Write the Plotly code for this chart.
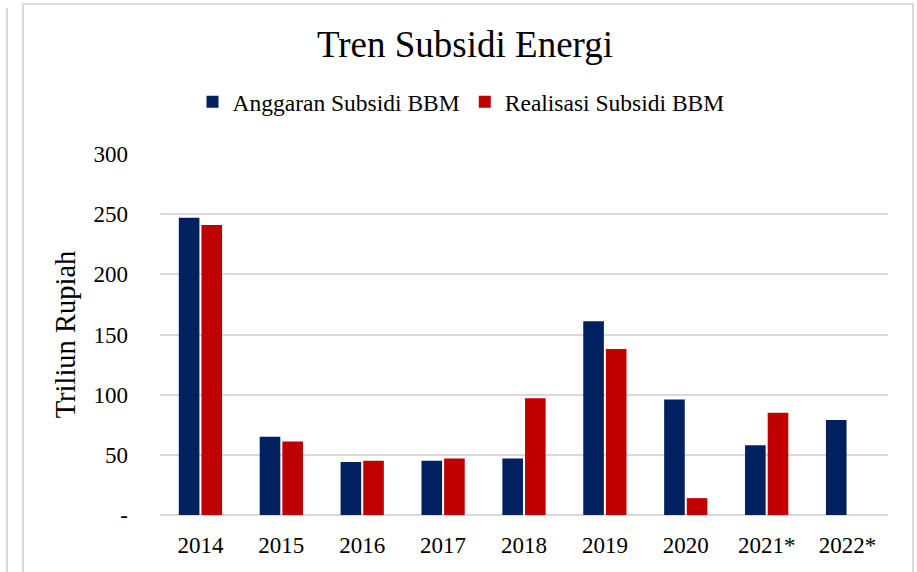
import plotly.graph_objects as go

years = ["2014", "2015", "2016", "2017", "2018", "2019", "2020", "2021*", "2022*"]
anggaran = [247, 65, 44, 45, 47, 161, 96, 58, 79]
realisasi = [241, 61, 45, 47, 97, 138, 14, 85, None]
y_ticks = [0, 50, 100, 150, 200, 250, 300]
y_ticktext = ["-", "50", "100", "150", "200", "250", "300"]

FONT = "Palatino Linotype, Book Antiqua, Liberation Serif, serif"

W, H = 917, 572
L, R, T, B = 160, 29, 154, 57
pw, ph = W - L - R, H - T - B

def px_x(x):
    return (x - L) / pw

def px_y(y):
    return (H - B - y) / ph

fig = go.Figure()
fig.add_trace(go.Bar(name="Anggaran Subsidi BBM", x=years, y=anggaran,
                     marker=dict(color="#002060", line=dict(width=0))))
fig.add_trace(go.Bar(name="Realisasi Subsidi BBM", x=years, y=realisasi,
                     marker=dict(color="#C00000", line=dict(width=0))))

fig.update_layout(
    width=W, height=H,
    margin=dict(l=L, r=R, t=T, b=B, autoexpand=False),
    paper_bgcolor="white", plot_bgcolor="white",
    font=dict(family=FONT, color="#000000", size=23),
    barmode="group", bargap=0.44, bargroupgap=0.09,
    title=dict(text="Tren Subsidi Energi", x=465 / W, xanchor="center",
               y=1 - 44 / H, yanchor="middle",
               font=dict(family=FONT, size=37, color="#000000")),
    legend=dict(orientation="h", x=461 / W, xanchor="center", xref="container",
                y=1 - 102 / H, yanchor="middle", yref="container",
                font=dict(family=FONT, size=23.5, color="#000000"),
                itemwidth=30, traceorder="normal"),
    showlegend=True,
)
fig.update_xaxes(showgrid=False, showline=False, zeroline=False, ticks="",
                 tickfont=dict(family=FONT, size=23), ticklabelstandoff=14)
fig.update_yaxes(range=[0, 300], tickvals=y_ticks, ticktext=y_ticktext,
                 showgrid=True, gridcolor="#d9d9d9", gridwidth=1.5,
                 zeroline=True, zerolinecolor="#d9d9d9", zerolinewidth=1.5,
                 showline=False, ticks="", ticklabelstandoff=31,
                 tickfont=dict(family=FONT, size=23),
                 title=dict(text="Triliun Rupiah", standoff=9,
                            font=dict(family=FONT, size=28.5)))

frame_color = "#d9d9d9"
fig.add_shape(type="rect", xref="paper", yref="paper",
              x0=px_x(23), x1=px_x(913), y0=px_y(590), y1=px_y(4),
              line=dict(color=frame_color, width=2), fillcolor="rgba(0,0,0,0)", layer="below")
fig.add_shape(type="line", xref="paper", yref="paper",
              x0=px_x(7), x1=px_x(7), y0=px_y(8), y1=px_y(590),
              line=dict(color=frame_color, width=2))

fig.write_html("out.html", config={"displayModeBar": False},
               post_script="document.body.style.margin='0';document.body.style.overflow='hidden';")
